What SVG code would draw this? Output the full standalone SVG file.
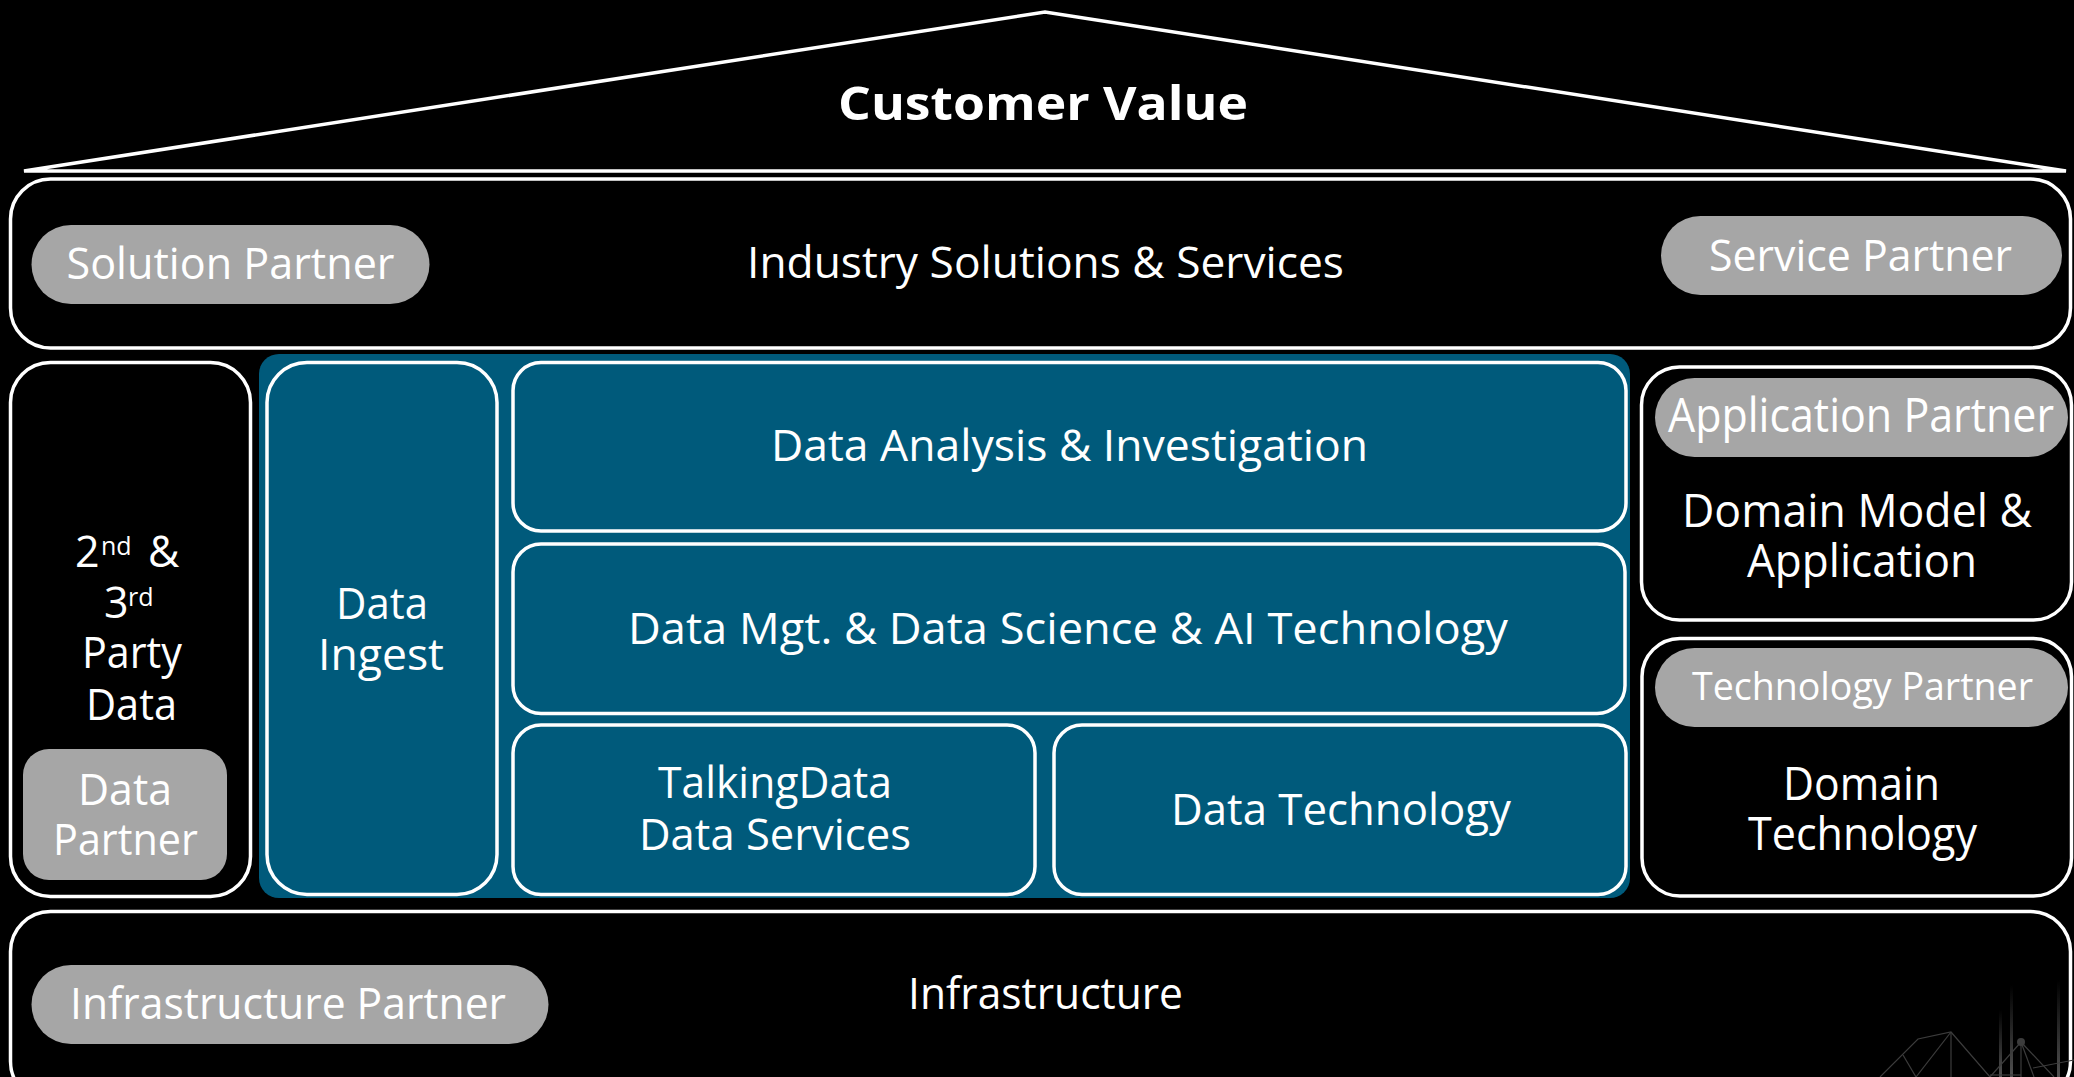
<svg xmlns="http://www.w3.org/2000/svg" width="2074" height="1077" viewBox="0 0 2074 1077">
<defs>
<style>
.t{font-family:"Open Sans","Noto Sans","Liberation Sans",sans-serif;fill:#ffffff;text-anchor:middle;font-size:43px}
.tb{font-family:"Open Sans","Noto Sans","Liberation Sans",sans-serif;fill:#ffffff;text-anchor:middle;font-size:47px;font-weight:bold}
.ts{font-family:"Open Sans","Noto Sans","Liberation Sans",sans-serif;fill:#ffffff;text-anchor:start;font-size:43px}
.box{fill:#000000;stroke:#ffffff;stroke-width:3.5}
.tealbox{fill:#005a7b;stroke:#ffffff;stroke-width:3.5}
.pill{fill:#a6a6a6}
.roof{fill:none;stroke:#ffffff;stroke-width:3.5;stroke-linejoin:miter;stroke-linecap:round}
.deco{fill:none;stroke:#3c3c3c;stroke-width:1.2}
</style>
<linearGradient id="bar" x1="0" y1="1" x2="0" y2="0">
<stop offset="0" stop-color="#5a5a5a" stop-opacity="0.9"/>
<stop offset="1" stop-color="#5a5a5a" stop-opacity="0"/>
</linearGradient>
</defs>
<rect x="0" y="0" width="2074" height="1077" fill="#000000"/>

<g id="roof">
<path class="roof" d="M24,171 L1045,12 L2066,171 Z"/>
<text class="tb" x="1043" y="120" textLength="410" lengthAdjust="spacingAndGlyphs">Customer Value</text>
</g>

<g id="industry">
<rect class="box" x="10.5" y="179" width="2060" height="169" rx="40" ry="40"/>
<text class="t" x="1045.5" y="278" textLength="597" lengthAdjust="spacingAndGlyphs">Industry Solutions &amp; Services</text>
</g>
<g id="solution-partner">
<rect class="pill" x="31.5" y="225" width="398" height="79" rx="39.5" ry="39.5"/>
<text class="t" x="230.5" y="279" textLength="328" lengthAdjust="spacingAndGlyphs">Solution Partner</text>
</g>
<g id="service-partner">
<rect class="pill" x="1661" y="216" width="401" height="79" rx="39.5" ry="39.5"/>
<text class="t" x="1860.5" y="271" textLength="303" lengthAdjust="spacingAndGlyphs">Service Partner</text>
</g>

<g id="party-data">
<rect class="box" x="10.5" y="362.5" width="240" height="534" rx="40" ry="40"/>
<text class="ts" x="75" y="567">2</text>
<text class="ts" x="101" y="555" style="font-size:25px">nd</text>
<text class="ts" x="148" y="567">&amp;</text>
<text class="ts" x="104" y="618">3</text>
<text class="ts" x="128" y="606" style="font-size:25px">rd</text>
<text class="t" x="132" y="668" textLength="100" lengthAdjust="spacingAndGlyphs">Party</text>
<text class="t" x="131.5" y="720" textLength="91" lengthAdjust="spacingAndGlyphs">Data</text>
</g>
<g id="data-partner">
<rect class="pill" x="23" y="749" width="204" height="131" rx="26" ry="26"/>
<text class="t" x="125" y="805" textLength="94" lengthAdjust="spacingAndGlyphs" style="font-size:44px">Data</text>
<text class="t" x="125.5" y="855" textLength="145" lengthAdjust="spacingAndGlyphs" style="font-size:44px">Partner</text>
</g>

<g id="teal-core">
<rect x="259" y="354" width="1371" height="544" rx="20" ry="20" fill="#005a7b"/>
</g>
<g id="data-ingest">
<rect class="tealbox" x="267" y="362.5" width="230" height="532" rx="40" ry="40"/>
<text class="t" x="382" y="618.5" textLength="92" lengthAdjust="spacingAndGlyphs">Data</text>
<text class="t" x="381" y="669.5" textLength="126" lengthAdjust="spacingAndGlyphs">Ingest</text>
</g>
<g id="data-analysis">
<rect class="tealbox" x="513" y="362.5" width="1113" height="168.5" rx="28" ry="28"/>
<text class="t" x="1069.5" y="461" textLength="597" lengthAdjust="spacingAndGlyphs" style="font-size:44px">Data Analysis &amp; Investigation</text>
</g>
<g id="data-mgt">
<rect class="tealbox" x="513" y="544" width="1112" height="169.5" rx="28" ry="28"/>
<text class="t" x="1068" y="643.5" textLength="880" lengthAdjust="spacingAndGlyphs" style="font-size:44px">Data Mgt. &amp; Data Science &amp; AI Technology</text>
</g>
<g id="talkingdata">
<rect class="tealbox" x="513" y="725" width="522" height="169.5" rx="28" ry="28"/>
<text class="t" x="775" y="798" textLength="234" lengthAdjust="spacingAndGlyphs">TalkingData</text>
<text class="t" x="775" y="850" textLength="272" lengthAdjust="spacingAndGlyphs">Data Services</text>
</g>
<g id="data-technology">
<rect class="tealbox" x="1054" y="725" width="572" height="169.5" rx="28" ry="28"/>
<text class="t" x="1341" y="825" textLength="340" lengthAdjust="spacingAndGlyphs">Data Technology</text>
</g>

<g id="domain-model">
<rect class="box" x="1641.5" y="367" width="430" height="253" rx="38" ry="38"/>
<text class="t" x="1857" y="527" textLength="350" lengthAdjust="spacingAndGlyphs" style="font-size:45px">Domain Model &amp;</text>
<text class="t" x="1862" y="577" textLength="230" lengthAdjust="spacingAndGlyphs" style="font-size:45px">Application</text>
</g>
<g id="application-partner">
<rect class="pill" x="1655" y="378" width="413" height="79" rx="39.5" ry="39.5"/>
<text class="t" x="1861" y="432" textLength="386" lengthAdjust="spacingAndGlyphs" style="font-size:47px">Application Partner</text>
</g>
<g id="domain-technology">
<rect class="box" x="1642" y="638.5" width="429.5" height="257.5" rx="38" ry="38"/>
<text class="t" x="1861.5" y="800" textLength="157" lengthAdjust="spacingAndGlyphs" style="font-size:45px">Domain</text>
<text class="t" x="1862.5" y="850" textLength="229" lengthAdjust="spacingAndGlyphs" style="font-size:45px">Technology</text>
</g>
<g id="technology-partner">
<rect class="pill" x="1655" y="648" width="413" height="79" rx="39.5" ry="39.5"/>
<text class="t" x="1862.5" y="700" textLength="341" lengthAdjust="spacingAndGlyphs" style="font-size:38px">Technology Partner</text>
</g>

<g id="infrastructure">
<rect class="box" x="10.5" y="911.5" width="2060" height="190" rx="40" ry="40"/>
<text class="t" x="1045.5" y="1009" textLength="275" lengthAdjust="spacingAndGlyphs">Infrastructure</text>
</g>
<g id="infrastructure-partner">
<rect class="pill" x="31.5" y="965" width="517" height="79" rx="39.5" ry="39.5"/>
<text class="t" x="288" y="1019" textLength="436" lengthAdjust="spacingAndGlyphs">Infrastructure Partner</text>
</g>

<g id="decoration">
<rect x="1999" y="1010" width="3" height="67" fill="url(#bar)"/>
<rect x="2010" y="985" width="3" height="92" fill="url(#bar)"/>
<rect x="2057" y="980" width="3" height="97" fill="url(#bar)"/>
<polyline class="deco" points="1880,1077 1918,1039 1951,1032 1990,1077"/>
<line class="deco" x1="1951" y1="1032" x2="1951" y2="1077"/>
<line class="deco" x1="1903" y1="1055" x2="1916" y2="1077"/>
<line class="deco" x1="1951" y1="1032" x2="1916" y2="1077"/>
<polyline class="deco" points="1990,1077 2021,1042 2054,1077"/>
<line class="deco" x1="2021" y1="1042" x2="2021" y2="1077"/>
<line class="deco" x1="2021" y1="1042" x2="2034" y2="1077"/>
<line class="deco" x1="2033" y1="1068" x2="2074" y2="1060"/>
<line class="deco" x1="1990" y1="1075" x2="2021" y2="1075"/>
<circle cx="2021" cy="1042" r="4" fill="#3c3c3c"/>
</g>
</svg>
